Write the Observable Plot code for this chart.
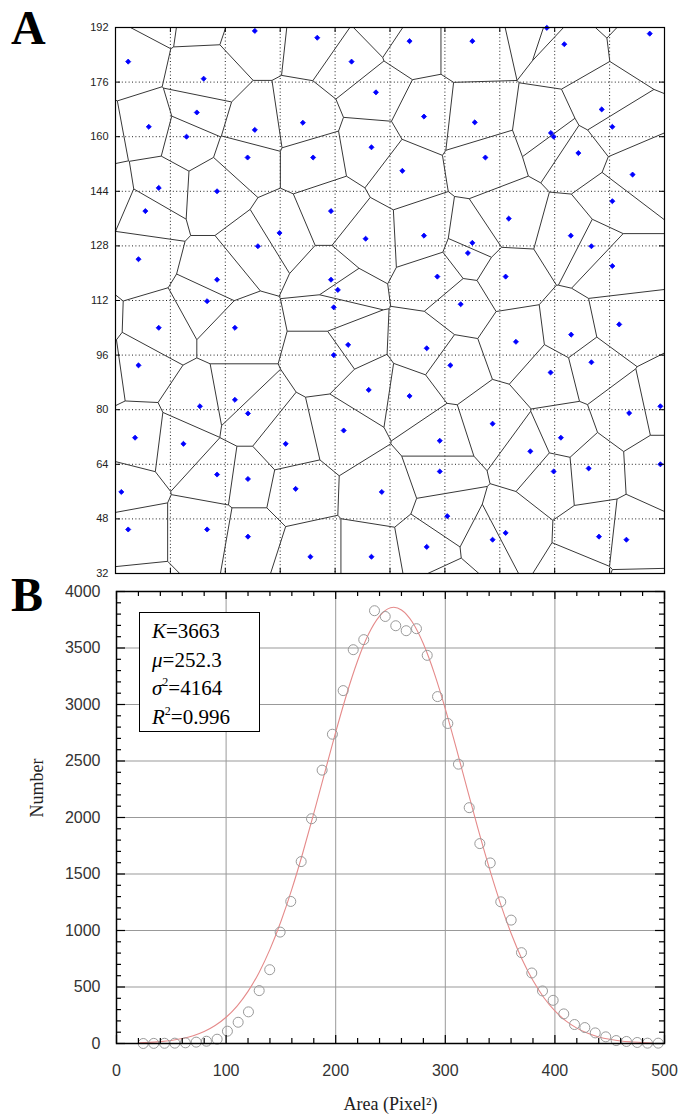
<!DOCTYPE html>
<html>
<head>
<meta charset="utf-8">
<script src="https://cdn.jsdelivr.net/npm/d3@7"></script>
<script src="https://cdn.jsdelivr.net/npm/@observablehq/plot@0.6"></script>
<style>
  html, body { margin: 0; padding: 0; background: #fff; }
  #wrap { position: relative; width: 680px; height: 1116px; overflow: hidden; }
  .panel { position: absolute; left: 0; }
  .plab { position: absolute; font-family: "Liberation Serif", "DejaVu Serif", serif; font-weight: bold; font-size: 48px; line-height: 1; }
  #legend { position: absolute; left: 139px; top: 612px; width: 121px; height: 120px; box-sizing: border-box;
    border: 1px solid #000; background: #fff; font-family: "Liberation Serif", serif; font-size: 21px; line-height: 28.6px; padding: 4px 0 0 12px; color: #000; }
  #legend sup { font-size: 12px; vertical-align: 9px; line-height: 0; }
</style>
</head>
<body>
<div id="wrap">
  <div id="pa" class="panel" style="top:0"></div>
  <div id="pb" class="panel" style="top:580px"></div>
  <div class="plab" style="left:11px; top:4px">A</div>
  <div class="plab" style="left:11px; top:571px">B</div>
  <div id="legend">
    <div><i>K</i>=3663</div>
    <div><i>μ</i>=252.3</div>
    <div><i>σ</i><sup>2</sup>=4164</div>
    <div><i>R</i><sup>2</sup>=0.996</div>
  </div>
</div>
<script>
// ---------- Panel A: seed points (visible) ----------
const cellX = [35.7, 72.6, 90.8, 57.7, 55.7, 41.7, 72.6, 86.6, 52.7, 70.5, 89.6, 44.6, 61.6, 40.7, 94.8, 79.8, 73.5, 38.7, 61.6, 94.8, 96.8, 58.7, 100.8, 117.7, 136.0, 157.7, 162.8, 187.7, 107.9, 121.9, 136.7, 173.7, 176.8, 106.6, 158.9, 159.7, 139.8, 166.9, 115.6, 182.7, 176.8, 146.6, 104.9, 121.9, 164.7, 170.7, 136.0, 134.7, 176.8, 125.8, 145.7, 95.6, 44.6, 66.8, 95.6, 38.7, 66.8, 56.6, 70.6, 37.7, 51.8, 81.6, 61.6, 70.6, 33.7, 84.5, 35.7, 58.7, 70.6, 88.8, 132.6, 164.8, 178.8, 148.7, 99.8, 122.7, 129.6, 170.7, 158.8, 105.8, 117.7, 190.8, 181.7, 98.5, 141.9, 126.5, 161.8, 152.9, 126.5, 159.7, 169.9, 190.8, 109.6, 128.7, 145.7, 141.9, 172.9, 180.9, 122.7, 106.6];
const cellY = [182.0, 191.0, 189.0, 177.0, 167.1, 162.9, 162.0, 164.1, 160.0, 153.9, 153.9, 145.0, 144.0, 138.2, 138.2, 131.8, 127.9, 124.1, 118.1, 118.1, 115.1, 111.8, 182.0, 188.0, 188.0, 191.9, 187.1, 190.2, 173.0, 165.9, 164.2, 168.0, 162.9, 156.9, 161.1, 160.0, 153.9, 155.2, 150.0, 148.9, 141.1, 136.0, 130.1, 131.0, 131.0, 127.9, 128.9, 125.9, 122.1, 119.0, 119.0, 110.0, 104.0, 104.0, 96.0, 93.0, 82.9, 81.0, 78.9, 71.8, 70.0, 70.0, 61.0, 59.7, 55.9, 56.8, 44.9, 44.9, 42.8, 36.9, 110.9, 102.0, 105.0, 99.9, 99.0, 98.0, 93.0, 93.9, 90.9, 85.8, 84.0, 81.0, 79.0, 73.9, 75.9, 70.9, 71.8, 67.8, 61.9, 61.9, 62.8, 64.0, 55.9, 48.8, 43.9, 41.9, 42.8, 41.9, 39.8, 36.9];
// seeds just outside the window (their cells are cut by the frame)
const outerX = [26.7, 30.3, 23.4, 28.2, 44.2, 56.8, 111.3, 155.9, 175.9, 37.8, 128.7, 167.7, 181.3];
const outerY = [160.1, 142.7, 104.7, 91.5, 198.2, 196.4, 192.3, 192.5, 201.5, 24.1, 26.7, 30.1, 24.6];
const gridTicksA = [32, 48, 64, 80, 96, 112, 128, 144, 160, 176, 192];
const gridA = [48, 64, 80, 96, 112, 128, 144, 160, 176];

// ---------- Panel B: histogram of cell areas ----------
const areaX = [24.4, 34.0, 43.8, 53.2, 62.9, 72.7, 82.1, 91.8, 101.2, 111.0, 120.4, 130.2, 139.8, 149.3, 159.0, 168.5, 177.9, 187.6, 197.0, 206.8, 216.0, 225.6, 235.4, 245.2, 254.8, 264.3, 273.7, 283.5, 292.9, 302.3, 312.0, 321.8, 331.5, 341.0, 350.6, 360.1, 369.5, 378.9, 388.7, 398.4, 408.1, 417.9, 427.3, 436.8, 446.4, 455.9, 465.3, 475.1, 484.5, 494.3];
const areaCount = [0, 1, 2, 3, 6, 12, 20, 38, 109, 188, 280, 468, 653, 986, 1257, 1610, 1989, 2419, 2737, 3123, 3485, 3574, 3830, 3779, 3697, 3653, 3671, 3435, 3070, 2832, 2472, 2087, 1769, 1598, 1254, 1092, 804, 624, 465, 382, 262, 168, 141, 94, 59, 26, 18, 9, 3, 3];
// fitted curve
const fitX = [20, 30, 40, 50, 60, 70, 80, 90, 100, 110, 120, 130, 140, 150, 160, 170, 180, 190, 200, 210, 220, 230, 240, 250, 260, 270, 280, 290, 300, 310, 320, 330, 340, 350, 360, 370, 380, 390, 400, 410, 420, 430, 440, 450, 460, 470, 480, 490];
const fitY = [6, 10, 17, 27, 44, 69, 106, 159, 232, 331, 461, 627, 833, 1080, 1366, 1688, 2036, 2397, 2755, 3091, 3387, 3623, 3782, 3856, 3837, 3728, 3537, 3275, 2961, 2613, 2252, 1894, 1556, 1247, 976, 746, 557, 405, 288, 200, 136, 90, 58, 37, 22, 14, 8, 5];
const xTicksB = [0, 100, 200, 300, 400, 500];
const xGridB = [100, 200, 300, 400];
const xMinorB = [20, 40, 60, 80, 120, 140, 160, 180, 220, 240, 260, 280, 320, 340, 360, 380, 420, 440, 460, 480];
const yTicksB = [0, 500, 1000, 1500, 2000, 2500, 3000, 3500, 4000];
const yGridB = [500, 1000, 1500, 2000, 2500, 3000, 3500];
const yMinorB = [100, 200, 300, 400, 600, 700, 800, 900, 1100, 1200, 1300, 1400, 1600, 1700, 1800, 1900, 2100, 2200, 2300, 2400, 2600, 2700, 2800, 2900, 3100, 3200, 3300, 3400, 3600, 3700, 3800, 3900];

// ---------- build Panel A ----------
const seeds = cellX.map((x, i) => ({x, y: cellY[i]}));
const allSeeds = seeds.concat(outerX.map((x, i) => ({x, y: outerY[i]})));
const FW_A = 549, FH_A = 546;
const plotA = Plot.plot({
  width: 680, height: 580,
  marginLeft: 115, marginRight: 16, marginTop: 27, marginBottom: 7,
  style: {fontFamily: "'Liberation Sans', Arial, sans-serif", fontSize: "11px", color: "#222", background: "transparent"},
  x: {domain: [32, 192], axis: null},
  y: {domain: [32, 192]},
  marks: [
    Plot.ruleX(gridA, {x: d => d, stroke: "#222", strokeDasharray: "1,2.4", strokeWidth: 1}),
    Plot.ruleY(gridA, {y: d => d, stroke: "#222", strokeDasharray: "1,2.4", strokeWidth: 1}),
    Plot.voronoiMesh(allSeeds, {x: "x", y: "y", stroke: "#383838", strokeOpacity: 1, strokeWidth: 1}),
    Plot.dot(seeds, {x: "x", y: "y", symbol: "diamond2", r: 2.3, fill: "#0000ff", stroke: "#0000ff", strokeWidth: 0.8}),
    Plot.ruleX(gridA, {x: d => d, stroke: "#000", insetTop: FH_A - 5}),
    Plot.ruleX(gridA, {x: d => d, stroke: "#000", insetBottom: FH_A - 5}),
    Plot.ruleY(gridA, {y: d => d, stroke: "#000", insetRight: FW_A - 5}),
    Plot.ruleY(gridA, {y: d => d, stroke: "#000", insetLeft: FW_A - 5}),
    Plot.frame({stroke: "#000", strokeWidth: 1.2}),
    Plot.axisY(gridTicksA, {tickSize: 0, tickPadding: 7, fontSize: 11, label: null})
  ]
});
document.getElementById("pa").appendChild(plotA);

// ---------- build Panel B ----------
const pts = areaX.map((x, i) => ({x, y: areaCount[i]}));
const fit = fitX.map((x, i) => ({x, y: fitY[i]}));
const FW_B = 548, FH_B = 452;
const plotB = Plot.plot({
  width: 680, height: 536,
  marginLeft: 116, marginRight: 16, marginTop: 11, marginBottom: 73,
  style: {fontFamily: "'Liberation Sans', Arial, sans-serif", fontSize: "16px", color: "#333", background: "transparent"},
  x: {domain: [0, 500]},
  y: {domain: [0, 4000]},
  marks: [
    Plot.ruleX(xGridB, {x: d => d, stroke: "#999", strokeWidth: 1}),
    Plot.ruleY(yGridB, {y: d => d, stroke: "#999", strokeWidth: 1}),
    Plot.line(fit, {x: "x", y: "y", stroke: "#e58a8a", strokeWidth: 1.1, curve: "natural"}),
    Plot.dot(pts, {x: "x", y: "y", r: 5, stroke: "#999", strokeWidth: 1, fill: "none"}),
    // inward ticks
    Plot.ruleX(xTicksB, {x: d => d, stroke: "#000", strokeWidth: 1.2, insetTop: FH_B - 8}),
    Plot.ruleX(xTicksB, {x: d => d, stroke: "#000", strokeWidth: 1.2, insetBottom: FH_B - 8}),
    Plot.ruleX(xMinorB, {x: d => d, stroke: "#000", strokeWidth: 1.2, insetTop: FH_B - 5}),
    Plot.ruleX(xMinorB, {x: d => d, stroke: "#000", strokeWidth: 1.2, insetBottom: FH_B - 5}),
    Plot.ruleY(yTicksB, {y: d => d, stroke: "#000", strokeWidth: 1.2, insetRight: FW_B - 9}),
    Plot.ruleY(yTicksB, {y: d => d, stroke: "#000", strokeWidth: 1.2, insetLeft: FW_B - 9}),
    Plot.ruleY(yMinorB, {y: d => d, stroke: "#000", strokeWidth: 1.2, insetRight: FW_B - 5}),
    Plot.ruleY(yMinorB, {y: d => d, stroke: "#000", strokeWidth: 1.2, insetLeft: FW_B - 5}),
    Plot.frame({stroke: "#000", strokeWidth: 1.5}),
    Plot.axisX(xTicksB, {tickSize: 0, tickPadding: 21, fontSize: 16, label: null, tickFormat: d3.format("d")}),
    Plot.axisY(yTicksB, {tickSize: 0, tickPadding: 16, fontSize: 16, label: null, tickFormat: d3.format("d")}),
    Plot.text(["Area (Pixel²)"], {frameAnchor: "bottom", dy: 66, fontFamily: "'Liberation Serif', serif", fontSize: 18, fill: "#222"}),
    Plot.text(["Number"], {frameAnchor: "left", dx: -79, rotate: -90, fontFamily: "'Liberation Serif', serif", fontSize: 18, fill: "#222"})
  ]
});
document.getElementById("pb").appendChild(plotB);
</script>
</body>
</html>
